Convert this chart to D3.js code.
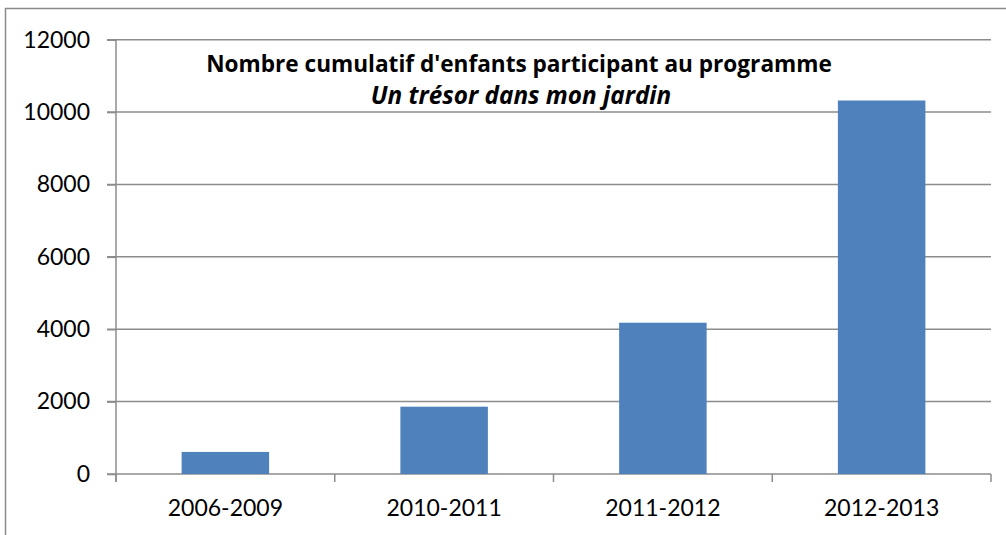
<!DOCTYPE html>
<html>
<head>
<meta charset="utf-8">
<script src="https://cdn.jsdelivr.net/npm/d3@7"></script>
<style>
	body { margin: 0; background: #fff; }
	text { font-family: Lato, "Open Sans", sans-serif; fill: #000; }
</style>
</head>
<body>
<div id="chart"></div>
<script>
// data
var categories = ["2006-2009", "2010-2011", "2011-2012", "2012-2013"];
var values = [610, 1860, 4180, 10320];
var yTicks = [0, 2000, 4000, 6000, 8000, 10000, 12000];
var titleLine1 = "Nombre cumulatif d'enfants participant au programme";
var titleLine2 = "Un trésor dans mon jardin";

var svgWidth = 1006, svgHeight = 535;
var margin = {top: 39.7, right: 15, bottom: 61, left: 116};
var width = svgWidth - margin.left - margin.right;
var height = svgHeight - margin.top - margin.bottom;

var svg = d3.select("#chart")
	.append("svg")
		.attr("width", svgWidth)
		.attr("height", svgHeight);

// outer chart frame (cropped at right and bottom)
svg.append("path")
	.attr("d", "M5.5," + svgHeight + " V8.5 H" + svgWidth)
	.attr("fill", "none")
	.attr("stroke", "#8a8a8a")
	.attr("stroke-width", 1.5);

var g = svg.append("g")
	.attr("transform", "translate(" + margin.left + "," + margin.top + ")");

var x = d3.scaleBand()
	.domain(categories)
	.range([0, width])
	.paddingInner(0.6)
	.paddingOuter(0.3);

var y = d3.scaleLinear()
	.domain([0, 12000])
	.range([height, 0]);

// horizontal gridlines
g.selectAll(".grid")
	.data(yTicks)
	.enter()
	.append("line")
	.attr("x1", -9)
	.attr("x2", width)
	.attr("y1", function(d) { return y(d); })
	.attr("y2", function(d) { return y(d); })
	.attr("stroke", "#8c8c8c")
	.attr("stroke-width", 1.5);

// y axis
var yAxis = g.append("g")
	.call(d3.axisLeft(y).tickValues(yTicks).tickSize(9).tickPadding(17).tickFormat(d3.format("d")));
yAxis.select(".domain").remove();
yAxis.selectAll(".tick line").attr("stroke", "#8c8c8c").attr("stroke-width", 1.5);
yAxis.selectAll(".tick text")
	.style("font-size", "23px")
	.style("font-family", "Lato, sans-serif")
	.attr("fill", "#000");

// left axis line
g.append("line")
	.attr("x1", 0).attr("x2", 0)
	.attr("y1", 0).attr("y2", height + 8)
	.attr("stroke", "#8c8c8c")
	.attr("stroke-width", 1.5);

// category tick marks at band boundaries
var step = x.step();
var boundaries = d3.range(categories.length + 1).map(function(i) { return i * step; });
g.selectAll(".ctick")
	.data(boundaries)
	.enter()
	.append("line")
	.attr("x1", function(d) { return d; })
	.attr("x2", function(d) { return d; })
	.attr("y1", height)
	.attr("y2", height + 8)
	.attr("stroke", "#8c8c8c")
	.attr("stroke-width", 1.5);

// bars
g.selectAll(".bar")
	.data(values)
	.enter()
	.append("rect")
	.attr("x", function(d, i) { return x(categories[i]); })
	.attr("width", x.bandwidth())
	.attr("y", function(d) { return y(d); })
	.attr("height", function(d) { return height - y(d); })
	.attr("fill", "#4f81bd");

// category labels
g.selectAll(".clabel")
	.data(categories)
	.enter()
	.append("text")
	.attr("x", function(d) { return x(d) + x.bandwidth() / 2; })
	.attr("y", height + 42)
	.attr("text-anchor", "middle")
	.style("font-size", "23px")
	.text(function(d) { return d; });

// title
svg.append("text")
	.attr("x", 519)
	.attr("y", 72)
	.attr("text-anchor", "middle")
	.style("font-family", "'Open Sans', sans-serif")
	.style("font-size", "22.6px")
	.style("font-weight", "bold")
	.text(titleLine1);

svg.append("text")
	.attr("x", 521)
	.attr("y", 104)
	.attr("text-anchor", "middle")
	.style("font-family", "'Open Sans', sans-serif")
	.style("font-size", "24.3px")
	.style("font-weight", "bold")
	.style("font-style", "italic")
	.text(titleLine2);
</script>
</body>
</html>
